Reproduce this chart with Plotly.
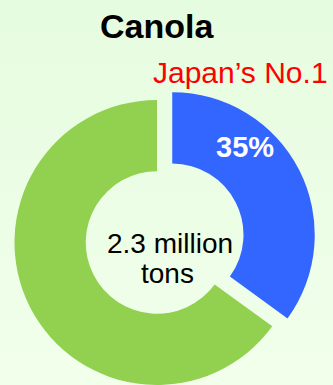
import math
import plotly.graph_objects as go

# --- data ---------------------------------------------------------------
crop = "Canola"
labels = ["Japan’s No.1", "Others"]
shares = [35, 65]              # percent of total
total_volume = 2.3             # million tons
volume_unit = ["million", "tons"]
highlight_label = "Japan’s No.1"

# --- styling ------------------------------------------------------------
W, H = 333, 385
BLUE = "#3366ff"
GREEN = "#92d050"
CLEAR = "rgba(0,0,0,0)"
FONT = "Liberation Sans, Arial, sans-serif"

R = 142.5        # outer radius in px
HOLE = 0.5
PULL = 0.12      # pull-out of the highlighted slice, fraction of radius
CX, CY = 157, 242.5


def px_x(x):
    return x / W


def px_y(y):
    return 1 - y / H


def domain(cx, cy, r):
    return dict(
        x=[max(0.0, px_x(cx - r)), min(1.0, px_x(cx + r))],
        y=[max(0.0, px_y(cy + r)), min(1.0, px_y(cy - r))],
    )


# offset of the pulled-out slice along its mid angle (clockwise from 12 o'clock)
mid_angle = math.radians(shares[0] / 2 / sum(shares) * 360)
dx = PULL * R * math.sin(mid_angle)
dy = -PULL * R * math.cos(mid_angle)

fig = go.Figure()

common = dict(
    labels=labels,
    values=shares,
    hole=HOLE,
    sort=False,
    direction="clockwise",
    rotation=0,
    textinfo="none",
    hoverinfo="skip",
    showlegend=False,
)

# remaining share, drawn in place
fig.add_trace(go.Pie(
    marker=dict(colors=[CLEAR, GREEN], line=dict(width=0)),
    domain=domain(CX, CY, R),
    **common,
))
# highlighted share, pulled out
fig.add_trace(go.Pie(
    marker=dict(colors=[BLUE, CLEAR], line=dict(width=0)),
    domain=domain(CX + dx, CY + dy, R),
    **common,
))

# soft vertical background gradient
top_rgb = (230, 252, 224)
bot_rgb = (241, 255, 235)
bands = 24
shapes = []
for i in range(bands):
    t = i / (bands - 1)
    c = tuple(round(a + (b - a) * t) for a, b in zip(top_rgb, bot_rgb))
    shapes.append(dict(
        type="rect", xref="paper", yref="paper", layer="below",
        x0=0, x1=1, y0=1 - (i + 1) / bands, y1=1 - i / bands + 0.002,
        fillcolor=f"rgb{c}", line=dict(width=0),
    ))


def note(text, x, y, size, color="#000000", bold=False, xanchor="center"):
    return dict(
        text=text, x=px_x(x), y=px_y(y), xref="paper", yref="paper",
        xanchor=xanchor, yanchor="middle", showarrow=False,
        font=dict(family=FONT, size=size, color=color,
                  weight="bold" if bold else "normal"),
    )


annotations = [
    note(crop, 156.5, 25.8, 34, bold=True),
    note(highlight_label, 330, 72.2, 30, color="#ff0000", xanchor="right"),
    note(f"{shares[0]}%", 245, 146.6, 29, color="#ffffff", bold=True),
    note(f"{total_volume} {volume_unit[0]}", 169.5, 243.0, 28),
    note(volume_unit[1], 168, 273.0, 28),
]

fig.update_layout(
    width=W, height=H,
    margin=dict(l=0, r=0, t=0, b=0),
    paper_bgcolor="rgb(236,254,230)",
    plot_bgcolor="rgba(0,0,0,0)",
    shapes=shapes,
    annotations=annotations,
)

fig.write_html("out.html", config={"displayModeBar": False})
